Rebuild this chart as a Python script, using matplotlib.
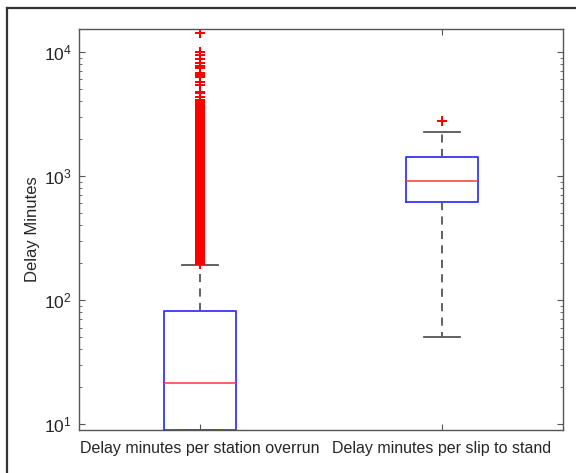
import matplotlib
matplotlib.use("Agg")
import matplotlib.pyplot as plt
from matplotlib.lines import Line2D
from matplotlib.ticker import LogLocator, NullFormatter

plt.rcParams['font.family'] = ['Liberation Sans', 'DejaVu Sans']

# Categories and box statistics (delay minutes)
categories = ["Delay minutes per station overrun", "Delay minutes per slip to stand"]
q1_vals = [8.95, 614]
median_vals = [21.4, 916]
q3_vals = [81.5, 1432]
whisker_low = [8.95, 50.3]
whisker_high = [191, 2265]

# Outliers above the upper whisker
overrun_outliers = [
    195, 200, 206, 212, 218, 224, 230, 236, 243, 250, 257, 264, 271, 279,
    287, 295, 303, 311, 320, 329, 338, 348, 357, 367, 378, 388, 399, 410,
    422, 434, 446, 458, 471, 484, 498, 512, 526, 541, 556, 571, 587, 604,
    621, 638, 656, 674, 693, 713, 733, 753, 774, 796, 818, 841, 865, 889,
    914, 939, 966, 993, 1020, 1050, 1080, 1110, 1140, 1170, 1200, 1240,
    1270, 1310, 1340, 1380, 1420, 1460, 1500, 1540, 1590, 1630, 1680, 1720,
    1770, 1820, 1870, 1920, 1980, 2030, 2090, 2150, 2210, 2270, 2330, 2400,
    2470, 2540, 2610, 2680, 2760, 2830, 2940,
    3000, 3080, 3170, 3260, 3350, 3440, 3540, 3640, 3740, 3850, 3960,
    4100, 4310, 4650, 4790, 5420, 5770, 6260, 6530, 6810, 7390, 7710,
    8110, 8730, 9470, 10050, 14160,
]
slip_outliers = [2795]

y_limits = (8.95, 15300)

stats = []
outlier_sets = [overrun_outliers, slip_outliers]
for i, name in enumerate(categories):
    stats.append(dict(label=name, q1=q1_vals[i], med=median_vals[i], q3=q3_vals[i],
                      whislo=whisker_low[i], whishi=whisker_high[i],
                      fliers=outlier_sets[i]))

fig = plt.figure(figsize=(5.76, 4.73), dpi=100)
ax = fig.add_axes([79 / 576, 1 - 430 / 473, (563 - 79) / 576, (430 - 29) / 473])

ax.bxp(stats, positions=[1, 2], widths=0.3, showfliers=True,
       boxprops=dict(color='#3535ff', linewidth=1.3),
       medianprops=dict(color='#ff3535', linewidth=1.1),
       whiskerprops=dict(color='#555555', linewidth=1.3, linestyle=(0, (4.5, 3.5))),
       capprops=dict(color='#555555', linewidth=1.3),
       capwidths=0.15,
       flierprops=dict(marker='+', markeredgecolor='#ff0000', markersize=7.5,
                       markeredgewidth=1.45, linestyle='none'))

ax.set_yscale('log')
ax.set_ylim(*y_limits)
ax.set_xlim(0.5, 2.5)
ax.set_xticks([1, 2])
ax.set_xticklabels(categories, fontsize=11.5, color='#262626')
ax.yaxis.set_major_locator(LogLocator(base=10, numticks=10))
ax.yaxis.set_minor_locator(LogLocator(base=10, subs=range(2, 10), numticks=10))
ax.yaxis.set_minor_formatter(NullFormatter())
ax.tick_params(axis='both', which='both', direction='in', top=True, right=True,
               color='#555555')
ax.tick_params(axis='both', which='major', length=4, labelcolor='#262626')
ax.tick_params(axis='y', which='major', labelsize=12.5, pad=5)
ax.tick_params(axis='y', which='minor', length=2.5)
ax.tick_params(axis='x', which='major', pad=8)
ax.set_ylabel("Delay Minutes", fontsize=12, color='#262626', labelpad=3)
for sp in ax.spines.values():
    sp.set_color('#555555')
    sp.set_linewidth(1.0)

# Outer window frame along the left and top edges
fig.add_artist(Line2D([7 / 576, 7 / 576], [0, 1 - 8 / 473], transform=fig.transFigure,
                      color='#333333', linewidth=1.6))
fig.add_artist(Line2D([7 / 576, 1], [1 - 8 / 473, 1 - 8 / 473], transform=fig.transFigure,
                      color='#333333', linewidth=1.6))

fig.savefig("out.png", dpi=100, facecolor='white')
